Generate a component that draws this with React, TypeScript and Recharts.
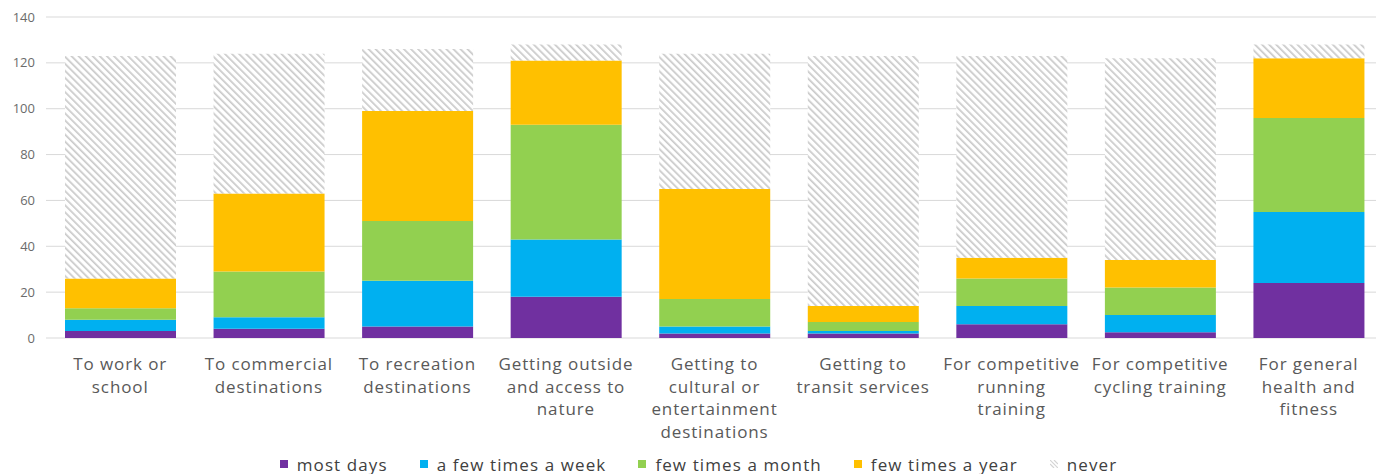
import React from "react";
import { BarChart, Bar, XAxis, YAxis, CartesianGrid, Legend } from "recharts";

const categories = [
  "To work or\nschool",
  "To commercial\ndestinations",
  "To recreation\ndestinations",
  "Getting outside\nand access to\nnature",
  "Getting to\ncultural or\nentertainment\ndestinations",
  "Getting to\ntransit services",
  "For competitive\nrunning\ntraining",
  "For competitive\ncycling training",
  "For general\nhealth and\nfitness",
];

const mostDays = [3, 4, 5, 18, 2, 2, 6, 2.5, 24];
const fewTimesWeek = [5, 5, 20, 25, 3, 1, 8, 7.5, 31];
const fewTimesMonth = [5, 20, 26, 50, 12, 4, 12, 12, 41];
const fewTimesYear = [13, 34, 48, 28, 48, 7, 9, 12, 26];
const never = [97, 61, 27, 7, 59, 109, 88, 88, 6];

const yTicks = [0, 20, 40, 60, 80, 100, 120, 140];

const seriesNames = ["most days", "a few times a week", "few times a month", "few times a year", "never"];
const seriesKeys = ["mostDays", "fewTimesWeek", "fewTimesMonth", "fewTimesYear", "never"];
const seriesColors = ["#7030a0", "#00b0f0", "#92d050", "#ffc000", "url(#hatch)"];

const data = categories.map((c, i) => ({
  category: c,
  mostDays: mostDays[i],
  fewTimesWeek: fewTimesWeek[i],
  fewTimesMonth: fewTimesMonth[i],
  fewTimesYear: fewTimesYear[i],
  never: never[i],
}));

const FONT = "'Open Sans', sans-serif";

const XTick = (props: any) => {
  const { x, y, payload } = props;
  const lines = String(payload.value).split("\n");
  return (
    <text
      x={x}
      y={y}
      textAnchor="middle"
      fill="#595959"
      fontSize={17}
      fontFamily={FONT}
      letterSpacing={0.9}
    >
      {lines.map((l, i) => (
        <tspan key={i} x={x} y={y + 24 + i * 22.5}>
          {l}
        </tspan>
      ))}
    </text>
  );
};

const LegendContent = () => (
  <div
    style={{
      display: "flex",
      justifyContent: "center",
      alignItems: "center",
      height: 20,
      fontFamily: FONT,
      fontSize: 17,
      letterSpacing: 1.1,
      color: "#404040",
      paddingLeft: 14,
    }}
  >
    {seriesNames.map((n, i) => (
      <div key={n} style={{ display: "flex", alignItems: "center", marginRight: i < seriesNames.length - 1 ? 32 : 0 }}>
        <svg width={8} height={8} style={{ marginRight: 9 }}>
          {i < 4 ? (
            <rect width={8} height={8} fill={seriesColors[i]} />
          ) : (
            <g>
              <rect width={8} height={8} fill="#fff" />
              <line x1={0} y1={0} x2={8} y2={8} stroke="#d4d4d4" strokeWidth={1.2} />
              <line x1={4} y1={0} x2={8} y2={4} stroke="#d4d4d4" strokeWidth={1.2} />
              <line x1={0} y1={4} x2={4} y2={8} stroke="#d4d4d4" strokeWidth={1.2} />
            </g>
          )}
        </svg>
        <span>{n}</span>
      </div>
    ))}
  </div>
);

export default function App() {
  return (
    <div style={{ position: "absolute", left: 0, top: 0, width: 1376, height: 474, background: "#fff", fontFamily: FONT, overflow: "hidden" }}>
      <BarChart
        width={1376}
        height={474}
        data={data}
        margin={{ top: 17, right: -7, left: 0, bottom: 0 }}
        barSize={111}
      >
        <defs>
          <pattern id="hatch" patternUnits="userSpaceOnUse" width={5} height={5} patternTransform="rotate(-45)">
            <rect width={5} height={5} fill="#ffffff" />
            <rect x={0} y={0} width={1.7} height={5} fill="#cacaca" />
          </pattern>
        </defs>
        <CartesianGrid vertical={false} stroke="#d9d9d9" />
        <XAxis
          dataKey="category"
          interval={0}
          axisLine={false}
          tickLine={false}
          height={116}
          tick={<XTick />}
        />
        <YAxis
          width={46}
          domain={[0, 140]}
          ticks={yTicks}
          axisLine={false}
          tickLine={false}
          tickMargin={5}
          tick={{ fill: "#6b6b6b", fontSize: 13, fontFamily: FONT }}
        />
        <Legend verticalAlign="bottom" height={20} content={() => <LegendContent />} />
        {seriesKeys.map((k, i) => (
          <Bar key={k} dataKey={k} name={seriesNames[i]} stackId="a" fill={seriesColors[i]} isAnimationActive={false} />
        ))}
      </BarChart>
    </div>
  );
}
